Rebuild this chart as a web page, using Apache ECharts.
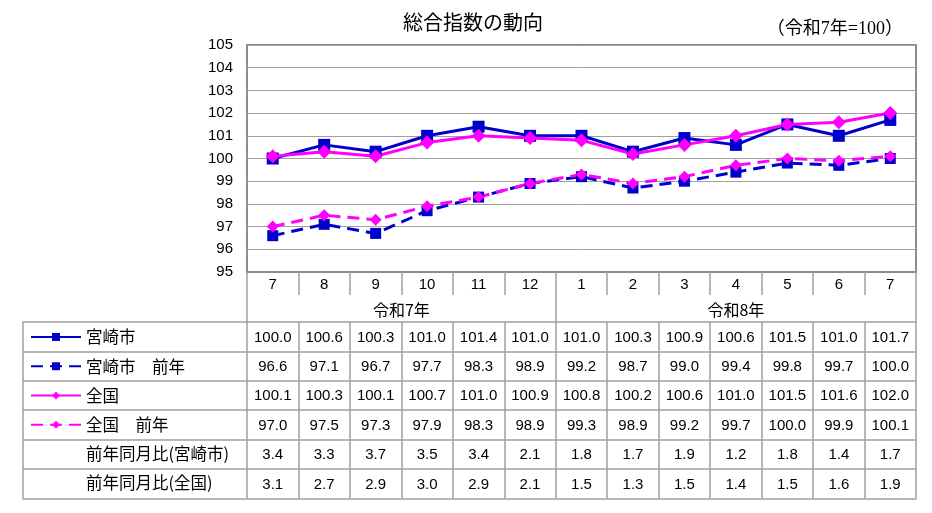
<!DOCTYPE html>
<html lang="ja">
<head>
    <meta charset="UTF-8">
    <title>総合指数の動向</title>
    <script type="text/javascript" src="https://cdn.jsdelivr.net/npm/echarts@6/dist/echarts.min.js"></script>
    <style>
        html, body { margin: 0; padding: 0; background: #fff; }
    </style>
</head>
<body>
    <div id="main" style="width: 932px; height: 513px"></div>
    <script type="text/javascript">
        // 月 (令和7年7月 〜 令和8年7月)
        var months = ['7', '8', '9', '10', '11', '12', '1', '2', '3', '4', '5', '6', '7'];
        var yearLabels = ['令和7年', '令和8年'];
        var seriesNames = ['宮崎市', '宮崎市　前年', '全国', '全国　前年'];
        var rowLabels = ['前年同月比(宮崎市)', '前年同月比(全国)'];

        var miyazaki     = [100.0, 100.6, 100.3, 101.0, 101.4, 101.0, 101.0, 100.3, 100.9, 100.6, 101.5, 101.0, 101.7];
        var miyazakiPrev = [96.6, 97.1, 96.7, 97.7, 98.3, 98.9, 99.2, 98.7, 99.0, 99.4, 99.8, 99.7, 100.0];
        var zenkoku      = [100.1, 100.3, 100.1, 100.7, 101.0, 100.9, 100.8, 100.2, 100.6, 101.0, 101.5, 101.6, 102.0];
        var zenkokuPrev  = [97.0, 97.5, 97.3, 97.9, 98.3, 98.9, 99.3, 98.9, 99.2, 99.7, 100.0, 99.9, 100.1];
        var yoyMiyazaki  = [3.4, 3.3, 3.7, 3.5, 3.4, 2.1, 1.8, 1.7, 1.9, 1.2, 1.8, 1.4, 1.7];
        var yoyZenkoku   = [3.1, 2.7, 2.9, 3.0, 2.9, 2.1, 1.5, 1.3, 1.5, 1.4, 1.5, 1.6, 1.9];

        var tableRows = [miyazaki, miyazakiPrev, zenkoku, zenkokuPrev, yoyMiyazaki, yoyZenkoku];

        var BLUE = '#0000cc';
        var PINK = '#ff00ff';
        var LINE = '#a0a0a0';
        var NUM_FONT = 'Liberation Sans, Arial, sans-serif';
        var JP_FONT = '"Noto Sans CJK JP", sans-serif';

        // layout
        var W = 932, H = 513;
        var plotLeft = 247, plotRight = 16, plotTop = 45, plotBottom = 272;
        var tableLeft = 23, tableTop = 322, rowH = 29.4;
        var n = months.length;
        var cellW = (W - plotLeft - plotRight) / n;
        var labelSpan = (plotLeft - tableLeft) / cellW;   // label column width in cell units
        var tableH = rowH * tableRows.length;

        var myChart = echarts.init(document.getElementById('main'));

        var centers = months.map(function (m, i) { return i + 0.5; });
        var bounds = [-labelSpan];
        for (var i = 0; i <= n; i++) bounds.push(i);

        // one axis per table row, stacked down from the table top
        var rowAxes = tableRows.map(function (row, r) {
            return {
                type: 'value', gridIndex: 1, position: 'bottom',
                min: -labelSpan, max: n,
                offset: -(tableH - r * rowH),
                axisLine: { show: true, onZero: false, lineStyle: { color: LINE, width: 1.5 } },
                axisTick: { show: true, customValues: bounds, length: rowH, lineStyle: { color: LINE, width: 1.5 } },
                axisLabel: {
                    show: true, customValues: centers, margin: 8,
                    color: '#000', fontSize: 15, fontFamily: NUM_FONT,
                    formatter: function (v) {
                        var k = Math.round(v - 0.5);
                        return row[k] == null ? '' : row[k].toFixed(1);
                    }
                },
                splitLine: { show: false }
            };
        });
        rowAxes.push({
            type: 'value', gridIndex: 1, position: 'bottom', min: -labelSpan, max: n, offset: 0,
            axisLine: { show: true, onZero: false, lineStyle: { color: LINE, width: 1.5 } },
            axisTick: { show: false }, axisLabel: { show: false }, splitLine: { show: false }
        });

        function lineSeries(name, data, color, dashed, symbol, size) {
            return {
                name: name, type: 'line', data: data,
                xAxisIndex: 0, yAxisIndex: 0,
                symbol: symbol, symbolSize: size,
                lineStyle: { color: color, width: 3, type: dashed ? [12, 7] : 'solid' },
                itemStyle: { color: color },
                emphasis: { disabled: true },
                animation: false
            };
        }

        var option = {
            animation: false,
            title: [
                {
                    text: '総合指数の動向', left: 468, top: 7, textAlign: 'center',
                    textStyle: { fontSize: 20, fontWeight: 'normal', color: '#000', fontFamily: JP_FONT }
                },
                {
                    text: '（令和7年=100）', right: 24, top: 15,
                    textStyle: { fontSize: 18, fontWeight: 'normal', color: '#000', fontFamily: 'Liberation Serif, "Noto Sans CJK JP", serif' }
                }
            ],
            legend: {
                orient: 'vertical', left: 30, top: tableTop + rowH / 2 - 8, padding: 0,
                itemWidth: 50, itemHeight: 10, itemGap: rowH - 16.6,
                selectedMode: false,
                data: seriesNames,
                textStyle: { fontSize: 16.5, lineHeight: 16, color: '#000', fontFamily: JP_FONT }
            },
            grid: [
                {
                    left: plotLeft, right: plotRight, top: plotTop, height: plotBottom - plotTop,
                    show: true, borderColor: '#8c8c8c', borderWidth: 2, backgroundColor: '#fff'
                },
                {
                    left: tableLeft, right: plotRight, top: tableTop, height: tableH, show: false
                }
            ],
            xAxis: [
                {
                    type: 'category', gridIndex: 0, data: months, boundaryGap: true,
                    axisLine: { show: true, lineStyle: { color: '#8c8c8c', width: 2 } },
                    axisTick: { show: true, interval: 0, length: 23, lineStyle: { color: LINE, width: 1.5 } },
                    axisLabel: { interval: 0, margin: 5, color: '#000', fontSize: 15, fontFamily: NUM_FONT }
                },
                {
                    type: 'value', gridIndex: 0, position: 'bottom', min: 0, max: n,
                    axisLine: { show: false, onZero: false },
                    axisTick: { show: true, customValues: [0, 6, n], length: tableTop - plotBottom, lineStyle: { color: LINE, width: 1.5 } },
                    axisLabel: {
                        show: true, customValues: [3, 9.5], margin: 30,
                        color: '#000', fontSize: 16, fontFamily: JP_FONT,
                        formatter: function (v) { return v < 6 ? yearLabels[0] : yearLabels[1]; }
                    },
                    splitLine: { show: false }
                }
            ].concat(rowAxes),
            yAxis: [
                {
                    type: 'value', gridIndex: 0, min: 95, max: 105, interval: 1,
                    axisLine: { show: false }, axisTick: { show: false },
                    axisLabel: { margin: 14, color: '#000', fontSize: 15, fontFamily: NUM_FONT },
                    splitLine: { show: true, lineStyle: { color: LINE, width: 1 } }
                },
                { type: 'value', gridIndex: 1, show: false }
            ],
            graphic: rowLabels.map(function (t, k) {
                return {
                    type: 'text', left: 86, top: tableTop + rowH * (4 + k) + rowH / 2 - 9,
                    style: { text: t, fontSize: 16.5, fontFamily: JP_FONT, fill: '#000' }
                };
            }),
            series: [
                lineSeries(seriesNames[0], miyazaki, BLUE, false, 'rect', 12),
                lineSeries(seriesNames[1], miyazakiPrev, BLUE, true, 'rect', 11),
                lineSeries(seriesNames[2], zenkoku, PINK, false, 'diamond', 14),
                lineSeries(seriesNames[3], zenkokuPrev, PINK, true, 'diamond', 12)
            ]
        };

        myChart.setOption(option);
    </script>
</body>
</html>
